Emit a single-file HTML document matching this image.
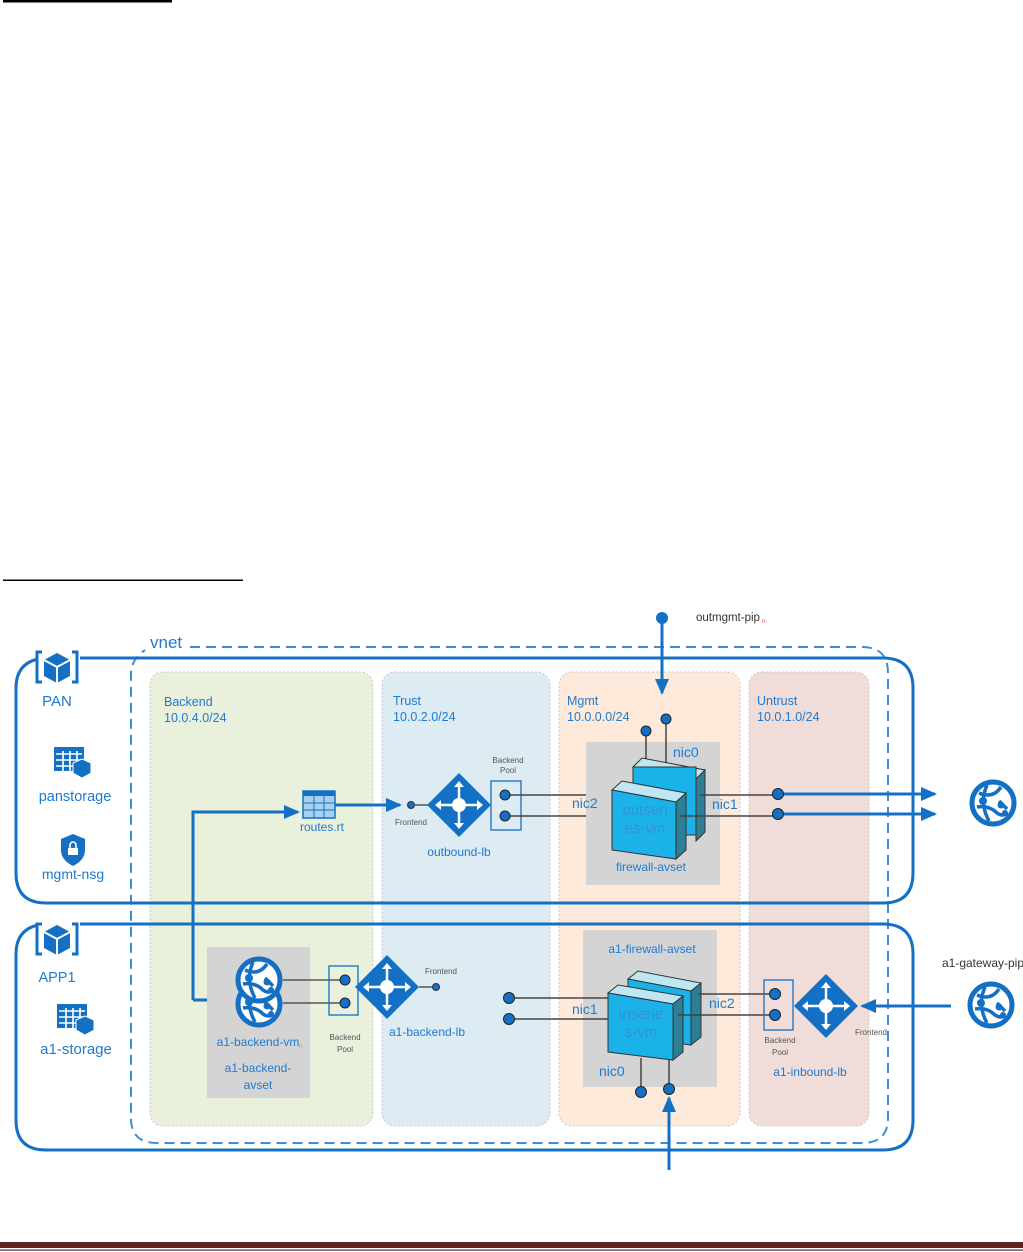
<!DOCTYPE html>
<html><head><meta charset="utf-8"><style>
html,body{margin:0;padding:0;background:#fff;}
svg{display:block;}
text{font-family:"Liberation Sans",sans-serif;}
</style></head><body>
<svg width="1023" height="1252" viewBox="0 0 1023 1252" xmlns="http://www.w3.org/2000/svg">
<defs>
<marker id="ahb" markerWidth="16" markerHeight="14" refX="14" refY="7" orient="auto" markerUnits="userSpaceOnUse"><path d="M0,0 L16,7 L0,14 z" fill="#1470c4"/></marker>
<g id="globe"><circle cx="0" cy="0" r="21" fill="#fff" stroke="#1470c4" stroke-width="5"/><path d="M-14,-10 Q0,-4 8,-16 M-16,4 Q-4,2 4,10 Q10,14 14,10 M-6,-18 Q-14,0 -4,18 M6,-2 L14,6" stroke="#1470c4" stroke-width="3.5" fill="none"/><circle cx="-10" cy="-2" r="4" fill="#1470c4"/><circle cx="8" cy="2" r="3.5" fill="#1470c4"/><circle cx="12" cy="10" r="3" fill="#1470c4"/></g>
<g id="diam"><path d="M0,-32 L32,0 L0,32 L-32,0 z" fill="#1470c4"/><circle r="7" fill="#fff"/><path d="M0,-22 V22 M-22,0 H22" stroke="#fff" stroke-width="2.5"/><path d="M0,-24 l-5,6 h10z M0,24 l-5,-6 h10z M-24,0 l6,-5 v10z M24,0 l-6,-5 v10z" fill="#fff"/></g>
<g id="cube"><path d="M-15,-16 h-5 v30 h5 M15,-16 h5 v30 h-5" stroke="#1470c4" stroke-width="3" fill="none"/><path d="M0,-15 L13,-8 L13,8 L0,15 L-13,8 L-13,-8 z" fill="#1470c4"/><path d="M-13,-8 L0,-1 L13,-8 M0,-1 V15" stroke="#fff" stroke-width="2" fill="none"/></g>
<g id="stor"><rect x="-18" y="-16" width="30" height="24" fill="#1470c4"/><path d="M-16,-9 H10 M-16,-3 H10 M-16,3 H10 M-9,-12 V8 M-2,-12 V8 M5,-12 V8" stroke="#fff" stroke-width="1.6"/><path d="M10,-4 L19,0 L19,10 L10,15 L1,10 L1,0 z" fill="#1470c4" stroke="#fff" stroke-width="1"/></g>
</defs>

<rect x="3" y="0" width="169" height="2.5" fill="#000"/>
<rect x="3" y="579.5" width="240" height="1.5" fill="#000"/>

<rect x="150" y="672" width="223" height="454" rx="13" fill="#e9f0dc" stroke="#c8c8c8" stroke-dasharray="2,2"/>
<rect x="382" y="672" width="168" height="454" rx="13" fill="#dcecf2" stroke="#c8c8c8" stroke-dasharray="2,2"/>
<rect x="559" y="672" width="181" height="454" rx="13" fill="#fdeadb" stroke="#c8c8c8" stroke-dasharray="2,2"/>
<rect x="749" y="672" width="120" height="454" rx="13" fill="#f0dcd9" stroke="#c8c8c8" stroke-dasharray="2,2"/>

<path d="M190,647 H862 Q888,647 888,673 V1118 Q888,1143 862,1143 H157 Q131,1143 131,1118 V673 Q131,660 145,650" fill="none" stroke="#3b8fd9" stroke-width="2" stroke-dasharray="10,6"/>
<text x="150" y="648" font-size="17" fill="#1f7ad0">vnet</text>

<path d="M80,658 H883 Q913,658 913,688 V873 Q913,903 883,903 H46 Q16,903 16,873 V688 Q16,664 38,659" fill="none" stroke="#1470c4" stroke-width="3"/>
<path d="M80,924 H883 Q913,924 913,954 V1120 Q913,1150 883,1150 H46 Q16,1150 16,1120 V954 Q16,930 38,925" fill="none" stroke="#1470c4" stroke-width="3"/>

<g font-size="12.5" fill="#1f7ad0">
<text x="164" y="706">Backend</text><text x="164" y="722">10.0.4.0/24</text>
<text x="393" y="705">Trust</text><text x="393" y="721">10.0.2.0/24</text>
<text x="567" y="705">Mgmt</text><text x="567" y="721">10.0.0.0/24</text>
<text x="757" y="705">Untrust</text><text x="757" y="721">10.0.1.0/24</text>
</g>

<use href="#cube" x="57" y="668"/>
<text x="57" y="706" font-size="15" fill="#1f7ad0" text-anchor="middle">PAN</text>
<use href="#stor" x="72" y="763"/>
<text x="75" y="801" font-size="14.5" fill="#1f7ad0" text-anchor="middle">panstorage</text>
<path d="M73,834 L85,839 V850 Q85,860 73,866 Q61,860 61,850 V839 z" fill="#1470c4"/><rect x="68" y="848" width="10" height="7" fill="#fff"/><path d="M70,848 v-3 a3,3 0 0 1 6,0 v3" stroke="#fff" stroke-width="1.6" fill="none"/>
<text x="73" y="879" font-size="14" fill="#1f7ad0" text-anchor="middle">mgmt-nsg</text>

<use href="#cube" x="57" y="940"/>
<text x="57" y="982" font-size="14.5" fill="#1f7ad0" text-anchor="middle">APP1</text>
<use href="#stor" x="75" y="1020"/>
<text x="76" y="1054" font-size="15" fill="#1f7ad0" text-anchor="middle">a1-storage</text>

<path d="M193,1000 V812 H298" fill="none" stroke="#1470c4" stroke-width="3" marker-end="url(#ahb)"/>
<path d="M193,1000 H232" stroke="#1470c4" stroke-width="3"/>
<rect x="303" y="791" width="32" height="27" fill="#a9d0ee" stroke="#1470c4" stroke-width="1.5"/><rect x="303" y="791" width="32" height="5" fill="#1470c4"/>
<path d="M303,803 H335 M303,810 H335 M314,796 V818 M324,796 V818" stroke="#1470c4" stroke-width="1"/>
<text x="322" y="831" font-size="12" fill="#1f7ad0" text-anchor="middle">routes.rt</text>
<path d="M335,805 H400" stroke="#1470c4" stroke-width="3" marker-end="url(#ahb)"/>

<circle cx="411" cy="805" r="3.5" fill="#1470c4" stroke="#333"/>
<path d="M414,805 H430" stroke="#555" stroke-width="1.5"/>
<text x="411" y="825" font-size="8" fill="#555" text-anchor="middle">Frontend</text>
<use href="#diam" x="459" y="805"/>
<text x="459" y="856" font-size="12" fill="#1f7ad0" text-anchor="middle">outbound-lb</text>
<rect x="491" y="781" width="30" height="49" fill="none" stroke="#1470c4" stroke-width="1.3"/>
<text x="508" y="763" font-size="8" fill="#555" text-anchor="middle">Backend</text><text x="508" y="773" font-size="8" fill="#555" text-anchor="middle">Pool</text>
<path d="M505,795 H640 M505,816 H615" stroke="#444" stroke-width="1.5"/>
<circle cx="505" cy="795" r="5" fill="#1470c4" stroke="#222"/><circle cx="505" cy="816" r="5" fill="#1470c4" stroke="#222"/>

<rect x="586" y="742" width="134" height="143" fill="#d4d4d4"/>
<circle cx="662" cy="618" r="6" fill="#1470c4"/>
<path d="M662,618 V693" stroke="#1470c4" stroke-width="3" marker-end="url(#ahb)"/>
<text x="696" y="621" font-size="11.5" fill="#333">outmgmt-pip</text><text x="762" y="623" font-size="6" fill="#e44">n</text>
<path d="M666,719 V770 M646,731 V790" stroke="#444" stroke-width="1.5"/>
<circle cx="666" cy="719" r="5" fill="#1470c4" stroke="#222"/><circle cx="646" cy="731" r="5" fill="#1470c4" stroke="#222"/>
<path d="M633,767 L642,758 L705,770 L696,779 z" fill="#bfe6f3" stroke="#333"/>
<rect x="633" y="767" width="63" height="68" fill="#1ab2e8" stroke="#333"/>
<path d="M696,779 L705,770 V832 L696,841 z" fill="#2c7f94" stroke="#333"/>
<path d="M612,790 L622,781 L686,793 L676,802 z" fill="#bfe6f3" stroke="#333"/>
<path d="M612,790 L676,802 V859 L612,850 z" fill="#1ab2e8" stroke="#333"/>
<path d="M676,802 L686,793 V850 L676,859 z" fill="#2c7f94" stroke="#333"/>
<text x="645" y="815" font-size="15" fill="#3b8ad0" text-anchor="middle" opacity="0.8">outseri</text>
<text x="645" y="833" font-size="15" fill="#3b8ad0" text-anchor="middle" opacity="0.8">es-vm</text>
<path d="M700,795 H778 M680,816 H778" stroke="#444" stroke-width="1.5"/>
<text x="673" y="757" font-size="14" fill="#1f7ad0">nic0</text>
<text x="572" y="808" font-size="14" fill="#1f7ad0">nic2</text>
<text x="712" y="809" font-size="14" fill="#1f7ad0">nic1</text>
<text x="651" y="871" font-size="12" fill="#1f7ad0" text-anchor="middle">firewall-avset</text>
<path d="M778,794 H935" stroke="#1470c4" stroke-width="3" marker-end="url(#ahb)"/>
<path d="M778,814 H935" stroke="#1470c4" stroke-width="3" marker-end="url(#ahb)"/>
<circle cx="778" cy="794" r="5.5" fill="#1470c4" stroke="#222"/><circle cx="778" cy="814" r="5.5" fill="#1470c4" stroke="#222"/>
<use href="#globe" x="993" y="803"/>

<rect x="207" y="947" width="103" height="151" fill="#d4d4d4"/>
<path d="M283,980 H344 M283,1003 H344" stroke="#555" stroke-width="1.5"/>
<use href="#globe" x="259" y="1004"/>
<use href="#globe" x="259" y="980"/>
<text x="258" y="1046" font-size="12" fill="#1f7ad0" text-anchor="middle">a1-backend-vm</text><text x="299" y="1048" font-size="6" fill="#e83">n</text>
<text x="258" y="1072" font-size="12" fill="#1f7ad0" text-anchor="middle">a1-backend-</text>
<text x="258" y="1089" font-size="12" fill="#1f7ad0" text-anchor="middle">avset</text>
<rect x="329" y="966" width="29" height="49" fill="none" stroke="#1470c4" stroke-width="1.3"/>
<circle cx="345" cy="980" r="5" fill="#1470c4" stroke="#222"/><circle cx="345" cy="1003" r="5" fill="#1470c4" stroke="#222"/>
<text x="345" y="1040" font-size="8" fill="#555" text-anchor="middle">Backend</text><text x="345" y="1052" font-size="8" fill="#555" text-anchor="middle">Pool</text>
<use href="#diam" x="387" y="987"/>
<path d="M419,987 H436" stroke="#555" stroke-width="1.5"/>
<circle cx="436" cy="987" r="3.5" fill="#1470c4" stroke="#333"/>
<text x="441" y="974" font-size="8" fill="#555" text-anchor="middle">Frontend</text>
<text x="427" y="1036" font-size="12" fill="#1f7ad0" text-anchor="middle">a1-backend-lb</text>

<rect x="583" y="930" width="134" height="157" fill="#d4d4d4"/>
<text x="652" y="953" font-size="12" fill="#1f7ad0" text-anchor="middle">a1-firewall-avset</text>
<path d="M509,998 H612 M509,1019 H612" stroke="#444" stroke-width="1.5"/>
<circle cx="509" cy="998" r="5.5" fill="#1470c4" stroke="#222"/><circle cx="509" cy="1019" r="5.5" fill="#1470c4" stroke="#222"/>
<path d="M628,979 L638,971 L701,983 L691,991 z" fill="#bfe6f3" stroke="#333"/>
<path d="M628,979 L691,991 V1045 L628,1036 z" fill="#1ab2e8" stroke="#333"/>
<path d="M691,991 L701,983 V1037 L691,1045 z" fill="#2c7f94" stroke="#333"/>
<path d="M608,993 L618,985 L683,996 L673,1004 z" fill="#bfe6f3" stroke="#333"/>
<path d="M608,993 L673,1004 V1060 L608,1052 z" fill="#1ab2e8" stroke="#333"/>
<path d="M673,1004 L683,996 V1052 L673,1060 z" fill="#2c7f94" stroke="#333"/>
<text x="641" y="1019" font-size="15" fill="#3b8ad0" text-anchor="middle" opacity="0.8">inserie</text>
<text x="641" y="1037" font-size="15" fill="#3b8ad0" text-anchor="middle" opacity="0.8">s-vm</text>
<path d="M698,994 H775 M678,1015 H775" stroke="#444" stroke-width="1.5"/>
<text x="572" y="1014" font-size="14" fill="#1f7ad0">nic1</text>
<text x="709" y="1008" font-size="14" fill="#1f7ad0">nic2</text>
<text x="599" y="1076" font-size="14" fill="#1f7ad0">nic0</text>
<path d="M641,1058 V1092 M669,1060 V1089" stroke="#444" stroke-width="1.5"/>
<circle cx="641" cy="1092" r="5.5" fill="#1470c4" stroke="#222"/><circle cx="669" cy="1089" r="5.5" fill="#1470c4" stroke="#222"/>
<path d="M669,1170 V1098" stroke="#1470c4" stroke-width="3" marker-end="url(#ahb)"/>

<rect x="764" y="980" width="29" height="50" fill="none" stroke="#1470c4" stroke-width="1.3"/>
<circle cx="775" cy="994" r="5.5" fill="#1470c4" stroke="#222"/><circle cx="775" cy="1015" r="5.5" fill="#1470c4" stroke="#222"/>
<text x="780" y="1043" font-size="8" fill="#555" text-anchor="middle">Backend</text><text x="780" y="1055" font-size="8" fill="#555" text-anchor="middle">Pool</text>
<use href="#diam" x="826" y="1006"/>
<text x="871" y="1035" font-size="8" fill="#555" text-anchor="middle">Frontend</text>
<text x="810" y="1076" font-size="12" fill="#1f7ad0" text-anchor="middle">a1-inbound-lb</text>
<path d="M951,1006 H862" stroke="#1470c4" stroke-width="3" marker-end="url(#ahb)"/>
<use href="#globe" x="991" y="1005"/>
<text x="983" y="967" font-size="12" fill="#333" text-anchor="middle">a1-gateway-pip</text>

<rect x="0" y="1242" width="1023" height="6" fill="#622423"/>
<rect x="0" y="1249.5" width="1023" height="1.2" fill="#622423"/>
</svg>
</body></html>
